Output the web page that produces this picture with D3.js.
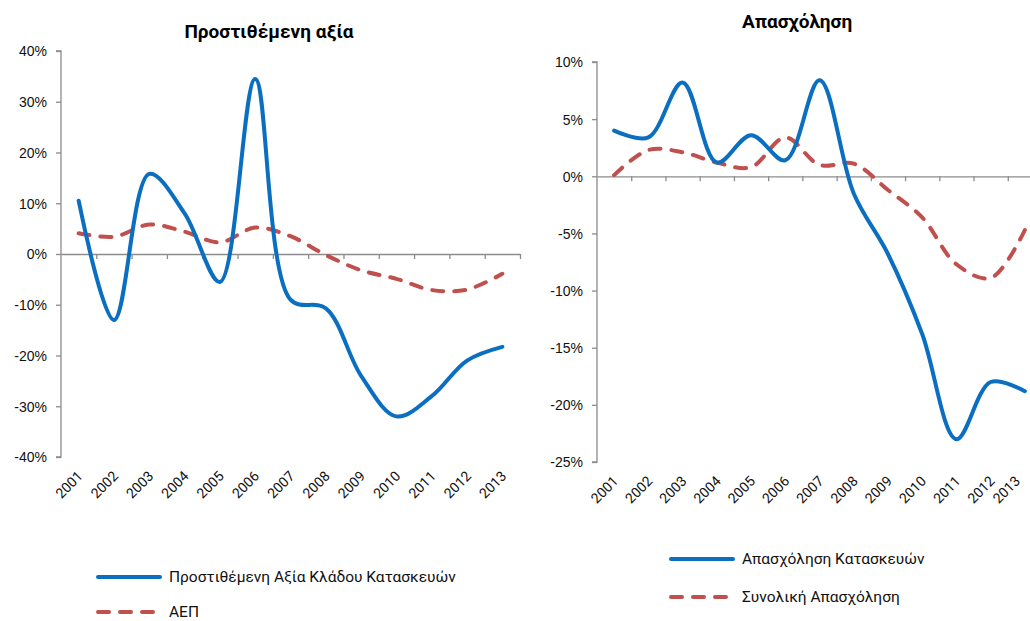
<!DOCTYPE html>
<html lang="el">
<head>
<meta charset="UTF-8">
<title>Προστιθέμενη αξία - Απασχόληση</title>
<script src="https://cdnjs.cloudflare.com/ajax/libs/d3/7.8.5/d3.min.js"></script>
<style>
body{ margin:0; background:#fff; }
svg{ font-family: Roboto, "Noto Sans", sans-serif; }
.title{ font-size:19px; font-weight:bold; fill:#000; }
.tick-label{ font-size:14px; fill:#111; }
.legend-text{ font-size:15.5px; fill:#111; }
.axis path, .axis line{ stroke:#8c8c8c; stroke-width:1.3px; }
.line{ fill:none; stroke-width:4px; stroke-linecap:round; stroke-linejoin:round; }
.blue{ stroke:#0b6fc1; }
.red{ stroke:#c0504d; stroke-dasharray:11,11; }
</style>
</head>
<body>
<div id="chart"></div>
<script>
var years = ['2001','2002','2003','2004','2005','2006','2007','2008','2009','2010','2011','2012','2013'];

// left chart: value added
var vaConstruction = [10.5, -13, 15.8, 8, -5.5, 34.5, -9, -10.7, -24, -32, -28, -21, -18.3];
var gdp = [4.1, 3.4, 5.8, 4.4, 2.3, 5.2, 3.5, -0.2, -3.2, -4.9, -7.1, -7, -3.9];
var leftTicks = [-40, -30, -20, -10, 0, 10, 20, 30, 40];

// right chart: employment
var empConstruction = [4, 3.4, 8.2, 1.2, 3.6, 1.4, 8.4, -1.5, -6.8, -13.8, -23, -18, -18.8];
var empTotal = [0.1, 2.3, 2.1, 1.2, 0.8, 3.4, 1, 1.1, -1.2, -3.6, -7.7, -8.9, -4.7];
var rightTicks = [-25, -20, -15, -10, -5, 0, 5, 10];

var W = 1030, H = 621;
var svg = d3.select('#chart').append('svg')
  .attr('width', W)
  .attr('height', H);

function drawChart(opt){
  var g = svg.append('g');

  var x = d3.scaleBand().domain(years).range([opt.x0, opt.x1]);
  var xEdge = d3.scaleLinear().domain([0, years.length]).range([opt.x0, opt.x1]);
  var y = d3.scaleLinear().domain([opt.min, opt.max]).range([opt.yBottom, opt.yTop]);

  // y axis
  var yAxis = d3.axisLeft(y)
    .tickValues(opt.ticks)
    .tickSize(5)
    .tickFormat(function(d){ return d + '%'; });
  var ya = g.append('g')
    .attr('class', 'axis')
    .attr('transform', 'translate(' + opt.x0 + ',0)')
    .call(yAxis);
  ya.select('.domain').attr('d', 'M-5,' + opt.yBottom + 'H0V' + opt.yTop + 'H-5');
  ya.selectAll('text').attr('class', 'tick-label').attr('x', -14).attr('dy', '0.35em');

  // x axis on the zero line, ticks between categories
  var xAxis = d3.axisBottom(xEdge)
    .tickValues(d3.range(1, years.length + 1))
    .tickSize(5)
    .tickSizeOuter(0)
    .tickFormat('');
  g.append('g')
    .attr('class', 'axis')
    .attr('transform', 'translate(0,' + y(0) + ')')
    .call(xAxis);

  // category labels at the bottom of the plot (kept inside the page)
  g.selectAll('.xlab')
    .data(years)
    .enter()
    .append('text')
    .attr('class', 'tick-label xlab')
    .attr('text-anchor', 'end')
    .attr('transform', function(d){
      var px = Math.min(x(d) + x.bandwidth() / 2 + 5, W - 9);
      var py = opt.yBottom + 20;
      return 'translate(' + px + ',' + py + ') rotate(-45)';
    })
    .text(function(d){ return d; });

  var line = d3.line()
    .x(function(d, i){ return x(years[i]) + x.bandwidth() / 2; })
    .y(function(d){ return y(d); })
    .curve(d3.curveCatmullRom.alpha(0.5));

  g.append('path').attr('class', 'line red').attr('d', line(opt.series2));
  g.append('path').attr('class', 'line blue').attr('d', line(opt.series1));

  g.append('text')
    .attr('class', 'title')
    .attr('x', opt.titleX)
    .attr('y', opt.titleY)
    .attr('text-anchor', 'middle')
    .text(opt.title);

  // legend
  var leg = g.append('g')
    .attr('transform', 'translate(' + opt.legX + ',' + opt.legY + ')')
    .selectAll('g')
    .data([[opt.name1, 'blue'], [opt.name2, 'red']])
    .enter()
    .append('g')
    .attr('transform', function(d, i){ return 'translate(0,' + i * opt.legStep + ')'; });
  leg.append('line')
    .attr('class', function(d){ return 'line ' + d[1]; })
    .attr('x1', 2).attr('x2', 64)
    .attr('y1', 0).attr('y2', 0);
  leg.append('text')
    .attr('class', 'legend-text')
    .attr('x', 73)
    .attr('dy', '0.35em')
    .text(function(d){ return d[0]; });
}

drawChart({
  x0: 61, x1: 520, yTop: 51, yBottom: 457, min: -40, max: 40,
  ticks: leftTicks, series1: vaConstruction, series2: gdp,
  title: 'Προστιθέμενη αξία', titleX: 269, titleY: 38,
  name1: 'Προστιθέμενη Αξία Κλάδου Κατασκευών', name2: 'ΑΕΠ',
  legX: 96, legY: 577, legStep: 35
});

drawChart({
  x0: 597, x1: 1042, yTop: 62, yBottom: 462, min: -25, max: 10,
  ticks: rightTicks, series1: empConstruction, series2: empTotal,
  title: 'Απασχόληση', titleX: 797, titleY: 28,
  name1: 'Απασχόληση Κατασκευών', name2: 'Συνολική Απασχόληση',
  legX: 669, legY: 559, legStep: 38
});
</script>
</body>
</html>
